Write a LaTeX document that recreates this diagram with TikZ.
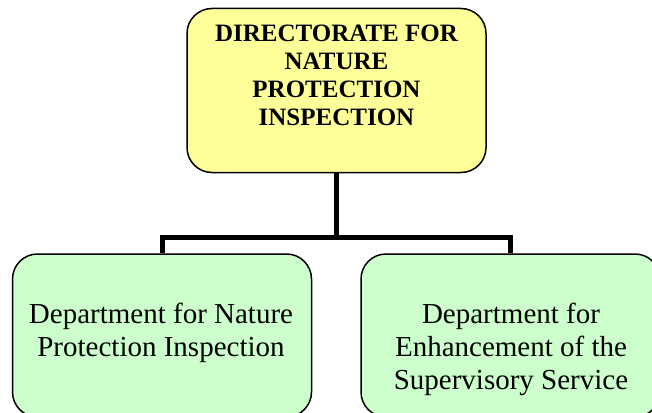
\documentclass[tikz,border=0pt]{standalone}
\usepackage{fontspec}
\setmainfont{Liberation Serif}
\definecolor{boxyellow}{HTML}{FFFF99}
\definecolor{boxgreen}{HTML}{CCFFCC}
\tikzset{
  orgbox/.style={draw=black, line width=1.5pt, rounded corners=25pt,
    minimum width=299pt, minimum height=163pt, inner sep=0pt},
  topbox/.style={orgbox, fill=boxyellow, minimum height=164pt},
  deptbox/.style={orgbox, fill=boxgreen},
  toptext/.style={inner sep=0pt, align=center, anchor=north,
    font=\bfseries\fontsize{25}{28}\selectfont},
  depttext/.style={inner sep=0pt, align=center, anchor=north,
    font=\fontsize{29}{33}\selectfont},
  conn/.style={draw=black, line width=5pt}
}
\begin{document}
\begin{tikzpicture}[x=1pt, y=-1pt]
\useasboundingbox (0,0) rectangle (652,412);
\clip (0,0) rectangle (652,412);
\coordinate (bar) at (0,237.5);
\node[topbox] (dir) at (336.5,90.5) {};
\node[deptbox] (left) at (162,335.5) {};
\node[deptbox] (right) at (510.5,335.5) {};
\draw[conn] (dir.south) -- (dir.south |- bar);
\draw[conn] (left.north) -- (left.north |- bar) -- (right.north |- bar) -- (right.north);
\node[toptext] (dirtxt) at (336.5,25) {DIRECTORATE FOR\\NATURE\\PROTECTION\\INSPECTION};
\node[depttext] (lefttxt) at (161,303) {Department for Nature\\Protection Inspection};
\node[depttext] (righttxt) at (511,303) {Department for\\Enhancement of the\\Supervisory Service};
\end{tikzpicture}
\end{document}
